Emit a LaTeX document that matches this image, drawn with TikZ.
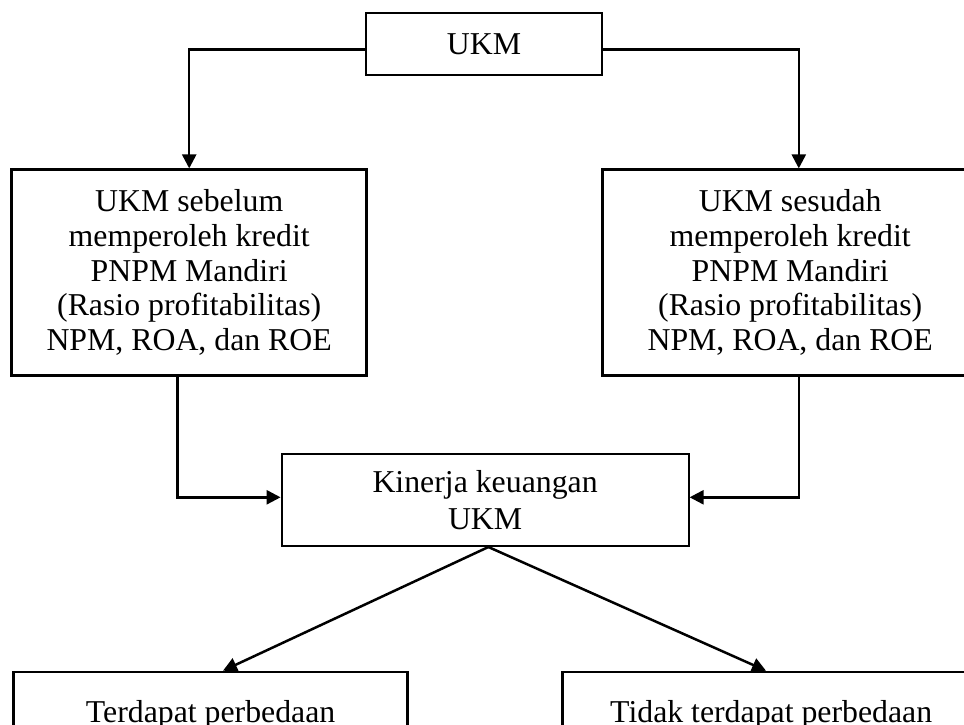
\documentclass[tikz,border=0pt]{standalone}
\usepackage{fontspec}
\setmainfont{Liberation Serif}
\usetikzlibrary{arrows.meta}
\begin{document}
\begin{tikzpicture}[x=1pt,y=-1pt,
  box/.style={draw, line width=2.6pt, inner sep=0pt, align=center,
    font=\fontsize{31.8}{34.6}\selectfont},
  thinbox/.style={box, line width=2pt},
  conn/.style={line width=2.5pt, -{Triangle[length=14pt,width=14pt]}},
  link/.style={line width=2.5pt}]
\clip (0,0) rectangle (964,725);
\fill[white] (0,0) rectangle (964,725);

\node[thinbox, minimum width=236.6pt, minimum height=61.7pt] (ukm) at (484,44.2) {UKM};
\node[box, minimum width=355pt, minimum height=205.8pt] (left) at (189.2,272.6)
  {UKM sebelum\\memperoleh kredit\\PNPM Mandiri\\(Rasio profitabilitas)\\NPM, ROA, dan ROE};
\node[box, minimum width=375.7pt, minimum height=205.8pt] (right) at (790.2,272.6)
  {UKM sesudah\\memperoleh kredit\\PNPM Mandiri\\(Rasio profitabilitas)\\NPM, ROA, dan ROE};
\node[thinbox, minimum width=407pt, minimum height=92pt,
  font=\fontsize{31.8}{36.7}\selectfont] (kin) at (485.1,500) {Kinerja keuangan\\UKM};
\node[box, minimum width=394.2pt, minimum height=86pt, anchor=north] (bl) at (210.6,670.7) {Terdapat perbedaan};
\node[box, minimum width=417.7pt, minimum height=86pt, anchor=north] (br) at (771.2,670.7) {Tidak terdapat perbedaan};

\coordinate (kb) at ([xshift=3.3pt]kin.south);

\draw[conn] ([yshift=-5.1pt]ukm.west) -| (left.north);
\draw[conn] ([yshift=-5.1pt]ukm.east) -| ([xshift=8.6pt]right.north);
\draw[conn] ([xshift=-11.7pt]left.south) |- ([yshift=2.7pt]kin.west);
\draw[conn] ([xshift=8.6pt]right.south) |- ([yshift=2.7pt]kin.east);
\draw[conn] (kb) -- ([xshift=12.4pt]bl.north);
\draw[conn] (kb) -- ([xshift=-5.2pt]br.north);
\end{tikzpicture}
\end{document}
